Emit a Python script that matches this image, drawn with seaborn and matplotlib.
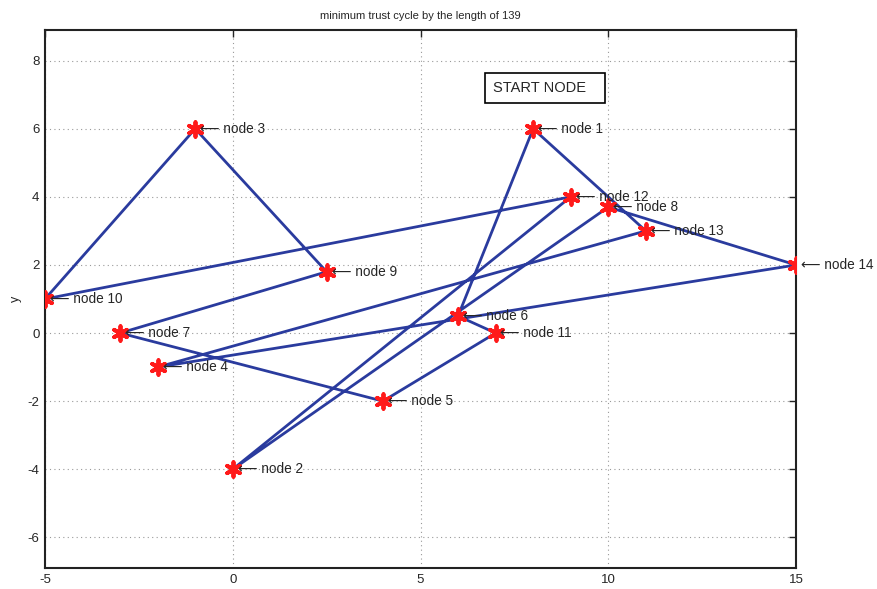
import matplotlib
matplotlib.use('Agg')
import matplotlib.pyplot as plt
import matplotlib.patches as mpatches
import seaborn as sns
import pandas as pd

# Node coordinates (node 1 .. node 14)
node_names = ['node 1', 'node 2', 'node 3', 'node 4', 'node 5', 'node 6', 'node 7',
              'node 8', 'node 9', 'node 10', 'node 11', 'node 12', 'node 13', 'node 14']
node_x = [8, 0, -1, -2, 4, 6, -3, 10, 2.5, -5, 7, 9, 11, 15]
node_y = [6, -4, 6, -1, -2, 0.5, 0, 3.7, 1.8, 1, 0, 4, 3, 2]

# Order of the minimum trust cycle
cycle_order = [1, 6, 11, 5, 7, 9, 3, 10, 12, 2, 8, 14, 4, 13, 1]

title = 'minimum trust cycle by the length of 139'

sns.set_style('white')
plt.rcParams['font.family'] = ['Liberation Sans', 'DejaVu Sans']
plt.rcParams['axes.unicode_minus'] = False

nodes = pd.DataFrame({'name': node_names, 'x': node_x, 'y': node_y})
path = pd.DataFrame({'x': [node_x[i - 1] for i in cycle_order],
                     'y': [node_y[i - 1] for i in cycle_order]})

fig = plt.figure(figsize=(8.77, 5.89), dpi=100)
ax = fig.add_axes([45 / 877, 1 - 568 / 589, (796 - 45) / 877, (568 - 30) / 589])

sns.lineplot(data=path, x='x', y='y', sort=False, estimator=None,
             color='#2a3b9e', linewidth=2, ax=ax, zorder=2)
sns.scatterplot(data=nodes, x='x', y='y', marker=(6, 2, 0), s=110,
                color='#ff1a1a', edgecolor='#ff1a1a', linewidth=2.8, ax=ax, zorder=3)

for _, r in nodes.iterrows():
    ax.text(r['x'] + 0.13, r['y'], '\u27f5 ' + r['name'], fontsize=9.8,
            va='center', ha='left', zorder=4)

# START NODE text box
ax.add_patch(mpatches.Rectangle((0.586, 0.864), 0.160, 0.057, transform=ax.transAxes,
                                facecolor='white', edgecolor='black', linewidth=1.2, zorder=5))
ax.text(0.597, 0.892, 'START NODE', transform=ax.transAxes, fontsize=10.5,
        va='center', ha='left', zorder=6)

ax.set_xlim(-5, 15)
ax.set_ylim(-6.9, 8.9)
ax.set_xticks([-5, 0, 5, 10, 15])
ax.set_yticks([-6, -4, -2, 0, 2, 4, 6, 8])
ax.grid(True, linestyle=(0, (1, 3)), color='#999999', linewidth=0.8)
ax.tick_params(direction='in', length=5, width=1, top=True, right=True,
               labelsize=9.5, pad=4)
for s in ax.spines.values():
    s.set_visible(True)
    s.set_color('#222222')
    s.set_linewidth(1.5)
ax.set_xlabel('')
ax.set_ylabel('y', fontsize=9, labelpad=4)
ax.set_title(title, fontsize=8, pad=8)

fig.savefig('out.png', dpi=100)
